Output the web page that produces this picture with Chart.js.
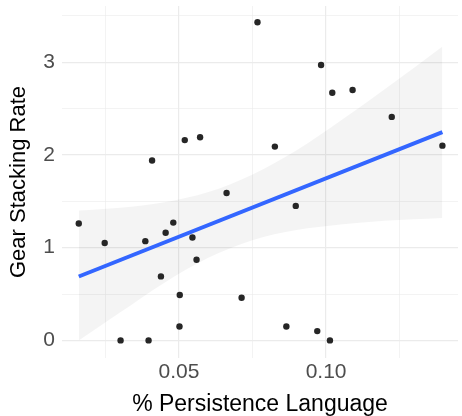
<!DOCTYPE html>
<html>
<head>
<meta charset="utf-8">
<script src="https://cdn.jsdelivr.net/npm/chart.js@4"></script>
<style>
html,body{margin:0;padding:0;background:#fff;}
#wrap{width:462px;height:416px;position:relative;}
</style>
</head>
<body>
<div id="wrap"><canvas id="c" width="462" height="416"></canvas></div>
<script>
// Observed points (% persistence language vs gear stacking rate)
const pointX = [0.0160,0.0248,0.0302,0.0386,0.0397,0.0409,0.0439,0.0455,0.0481,0.0502,0.0503,0.0520,0.0546,0.0560,0.0572,0.0662,0.0713,0.0767,0.0826,0.0865,0.0897,0.0970,0.0983,0.1013,0.1021,0.1090,0.1223,0.1395];
const pointY = [1.26,1.05,0.00,1.07,0.00,1.94,0.69,1.16,1.27,0.15,0.49,2.16,1.11,0.87,2.19,1.59,0.46,3.43,2.09,0.15,1.45,0.10,2.97,0.00,2.67,2.70,2.41,2.10];

// Fitted regression line
const fitX = [0.0160, 0.1395];
const fitY = [0.689, 2.245];

// Confidence band
const bandX     = [0.0160,0.0300,0.0450,0.0600,0.0750,0.0900,0.1050,0.1200,0.1395];
const bandUpper = [1.40,1.43,1.49,1.60,1.79,2.05,2.37,2.71,3.17];
const bandLower = [0.00,0.30,0.62,0.89,1.08,1.19,1.25,1.29,1.32];

// Axis ticks / gridlines
const xGrid = [0.025,0.05,0.075,0.10,0.125];
const xMajor = [0.05,0.10];
const xLabels = ['0.05','0.10'];
const yGrid = [0,0.5,1,1.5,2,2.5,3,3.5];
const yMajor = [0,1,2,3];
const yLabels = ['0','1','2','3'];

const zip = (xs, ys) => xs.map((x,i)=>({x:x, y:ys[i]}));
const idxOf = (arr, v) => arr.findIndex(a => Math.abs(a - v) < 1e-9);

const FONT = '"Liberation Sans", Arial, Helvetica, sans-serif';

new Chart(document.getElementById('c'), {
  type: 'scatter',
  data: {
    datasets: [
      { label:'fit', data: zip(fitX, fitY), showLine:true, borderColor:'#3366FF', borderWidth:4, pointRadius:0, fill:false, order:0 },
      { label:'points', data: zip(pointX, pointY), pointRadius:3.2, pointBackgroundColor:'#262626', pointBorderWidth:0, showLine:false, order:1 },
      { label:'upper', data: zip(bandX, bandUpper), showLine:true, borderWidth:0, borderColor:'rgba(0,0,0,0)', pointRadius:0, fill:'+1', backgroundColor:'rgba(0,0,0,0.045)', tension:0.4, cubicInterpolationMode:'monotone', order:2 },
      { label:'lower', data: zip(bandX, bandLower), showLine:true, borderWidth:0, borderColor:'rgba(0,0,0,0)', pointRadius:0, fill:false, tension:0.4, cubicInterpolationMode:'monotone', order:3 }
    ]
  },
  options: {
    responsive:false,
    animation:false,
    devicePixelRatio:1,
    layout:{ padding:{ top:6, right:0, bottom:0, left:0 } },
    plugins:{ legend:{display:false}, tooltip:{enabled:false} },
    scales:{
      x:{
        type:'linear', min:0.0103, max:0.1448,
        afterBuildTicks: s => { s.ticks = xGrid.map(v=>({value:v})); },
        afterFit: s => { s.height = 58; s.paddingLeft = 0; s.paddingRight = 0; },
        ticks:{ callback: v => { const i = idxOf(xMajor, v); return i >= 0 ? xLabels[i] : ''; }, color:'#4d4d4d', font:{family:FONT, size:21}, padding:2, maxRotation:0, autoSkip:false },
        grid:{ color:'#ebebeb', lineWidth: c => (c.tick && idxOf(xMajor, c.tick.value) >= 0) ? 1.2 : 0.6, drawTicks:false },
        border:{display:false},
        title:{ display:true, text:'% Persistence Language', color:'#000', font:{family:FONT, size:23, lineHeight:1}, padding:{top:0,bottom:0} }
      },
      y:{
        type:'linear', min:-0.19, max:3.606,
        afterBuildTicks: s => { s.ticks = yGrid.map(v=>({value:v})); },
        afterFit: s => { s.width = 62; s.paddingTop = 0; s.paddingBottom = 0; },
        ticks:{ callback: v => { const i = idxOf(yMajor, v); return i >= 0 ? yLabels[i] : ''; }, color:'#4d4d4d', font:{family:FONT, size:21}, padding:7, autoSkip:false },
        grid:{ color:'#ebebeb', lineWidth: c => (c.tick && idxOf(yMajor, c.tick.value) >= 0) ? 1.2 : 0.6, drawTicks:false },
        border:{display:false},
        title:{ display:true, text:'Gear Stacking Rate', color:'#000', font:{family:FONT, size:22, lineHeight:1}, padding:{top:8,bottom:0} }
      }
    }
  }
});
</script>
</body>
</html>
